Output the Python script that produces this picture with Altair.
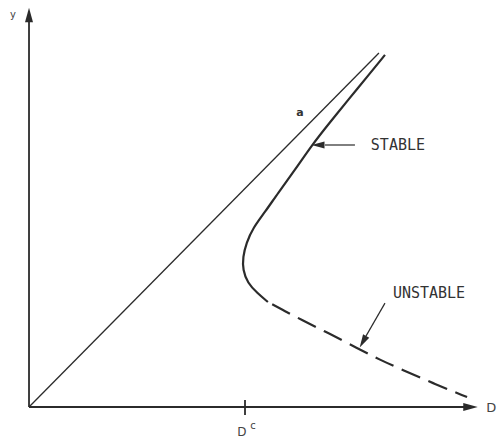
import altair as alt
import pandas as pd

# Operating diagram: output y against dilution rate D, scaled so that D^c = 1.
stable_D = [1.648, 1.565, 1.477, 1.394, 1.310, 1.231, 1.153, 1.093, 1.037, 1.006, 0.990, 0.990, 1.012, 1.056, 1.106]
stable_y = [1.630, 1.528, 1.421, 1.319, 1.213, 1.097, 0.991, 0.903, 0.829, 0.759, 0.694, 0.634, 0.574, 0.528, 0.486]

unstable_D = [1.106, 1.185, 1.255, 1.394, 1.519, 1.625, 1.731, 1.880, 2.028]
unstable_y = [0.486, 0.444, 0.407, 0.338, 0.273, 0.218, 0.171, 0.106, 0.046]

diag_D = [0.0, 1.620]
diag_y = [0.0, 1.639]

x_axis_D = [0.0, 2.02]
y_axis_y = [0.0, 1.80]
D_crit = 1.0

labels = ["STABLE", "UNSTABLE"]
label_D = [1.708, 1.852]
label_y = [1.213, 0.528]

X_DOM = [-0.1343, 2.1713]
Y_DOM = [-0.1528, 1.8843]
INK = "#2b2b2b"


def X(field="D"):
    return alt.X(f"{field}:Q", scale=alt.Scale(domain=X_DOM, nice=False, zero=False), axis=None)


def Y(field="y"):
    return alt.Y(f"{field}:Q", scale=alt.Scale(domain=Y_DOM, nice=False, zero=False), axis=None)


def curve(D, y):
    return pd.DataFrame({"D": D, "y": y, "i": range(len(D))})


arrow_shape = "M0,-1L0.55,1L-0.55,1Z"

# axes drawn as arrows
axes_df = pd.DataFrame({"D": [0, 0], "y": [0, 0], "D2": [x_axis_D[1], 0], "y2": [0, y_axis_y[1]]})
axes = alt.Chart(axes_df).mark_rule(color=INK, strokeWidth=1.8).encode(
    x=X(), y=Y(), x2="D2:Q", y2="y2:Q")

heads_df = pd.DataFrame({"D": [2.044, 0.0, 1.338, 1.546],
                         "y": [0.0, 1.815, 1.213, 0.302],
                         "ang": [90, 0, 270, 209.6],
                         "sz": [210, 210, 170, 170]})
heads = alt.Chart(heads_df).mark_point(shape=arrow_shape, filled=True, color=INK, opacity=1).encode(
    x=X(), y=Y(),
    angle=alt.Angle("ang:Q", scale=None),
    size=alt.Size("sz:Q", scale=None))

tick = alt.Chart(pd.DataFrame({"D": [D_crit], "y": [0.032], "y2": [-0.037]})).mark_rule(
    color=INK, strokeWidth=1.8).encode(x=X(), y=Y(), y2="y2:Q")

diag = alt.Chart(curve(diag_D, diag_y)).mark_line(color=INK, strokeWidth=1.3).encode(
    x=X(), y=Y(), order="i:O")

stable = alt.Chart(curve(stable_D, stable_y)).mark_line(
    color=INK, strokeWidth=2.2, interpolate="basis").encode(x=X(), y=Y(), order="i:O")

unstable = alt.Chart(curve(unstable_D, unstable_y)).mark_line(
    color=INK, strokeWidth=2.2, interpolate="basis", strokeDash=[20, 9],
    strokeDashOffset=-5).encode(x=X(), y=Y(), order="i:O")

# pointer lines for the branch labels
ptr_df = pd.DataFrame({"D": [1.509, 1.648], "y": [1.213, 0.481], "D2": [1.37, 1.560], "y2": [1.213, 0.328]})
pointers = alt.Chart(ptr_df).mark_rule(color=INK, strokeWidth=1.2).encode(
    x=X(), y=Y(), x2="D2:Q", y2="y2:Q")

branch_text = alt.Chart(pd.DataFrame({"t": labels, "D": label_D, "y": label_y})).mark_text(
    font="DejaVu Sans Mono", fontSize=15, color="#333333", align="center", baseline="middle").encode(
    x=X(), y=Y(), text="t:N")

small_text = alt.Chart(pd.DataFrame({
    "t": ["y", "D", "D", "c"],
    "D": [-0.074, 2.140, 0.986, 1.037],
    "y": [1.815, -0.005, -0.116, -0.088],
    "fs": [10, 13, 12, 10],
})).mark_text(font="DejaVu Sans", color="#444444", align="center", baseline="middle").encode(
    x=X(), y=Y(), text="t:N", size=alt.Size("fs:Q", scale=None))

a_mark = alt.Chart(pd.DataFrame({"t": ["a"], "D": [1.255], "y": [1.361]})).mark_text(
    font="DejaVu Sans", fontSize=11, fontWeight="bold", color="#333333",
    align="center", baseline="middle").encode(x=X(), y=Y(), text="t:N")

chart = alt.layer(axes, tick, diag, stable, unstable, pointers, heads, branch_text, small_text, a_mark).properties(
    width=498, height=440, padding=0, autosize="none", background="white"
).configure_view(stroke=None)

chart.save("out.html", embed_options={"renderer": "svg", "actions": False})
